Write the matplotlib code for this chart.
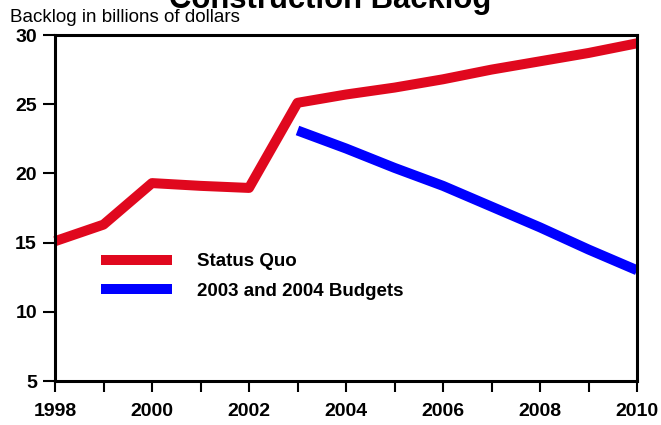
import numpy as np
import matplotlib.pyplot as plt

plt.rcParams['font.family'] = ['Liberation Sans', 'DejaVu Sans']

# data
years = [1998, 1999, 2000, 2001, 2002, 2003, 2004, 2005, 2006, 2007, 2008, 2009, 2010]
status_quo = [15.1, 16.3, 19.3, 19.1, 18.95, 25.1, 25.7, 26.2, 26.8, 27.5, 28.1, 28.7, 29.4]
budget_years = [2003, 2004, 2005, 2006, 2007, 2008, 2009, 2010]
budgets = [23.1, 21.8, 20.4, 19.1, 17.6, 16.1, 14.5, 13.0]

fig = plt.figure(figsize=(6.61, 4.25), dpi=100)
ax = fig.add_axes([55 / 661, 44 / 425, 582 / 661, 346 / 425])

ax.plot(years, status_quo, color='#e0081e', linewidth=7.2, solid_joinstyle='round',
        solid_capstyle='butt', label='Status Quo', clip_on=False)
ax.plot(budget_years, budgets, color='#0000ff', linewidth=7.2, solid_capstyle='butt',
        label='2003 and 2004 Budgets', clip_on=False)

ax.set_xlim(1998, 2010)
ax.set_ylim(5, 30)
ax.set_xticks(years)
ax.set_xticklabels([str(y) if y % 2 == 0 else '' for y in years])
ax.set_yticks([5, 10, 15, 20, 25, 30])

for sp in ax.spines.values():
    sp.set_linewidth(2.2)
ax.tick_params(axis='x', direction='out', length=8, width=1.5, pad=8, labelsize=14)
ax.tick_params(axis='y', direction='out', length=9, width=1.5, pad=4, labelsize=14)
for lab in ax.get_xticklabels() + ax.get_yticklabels():
    lab.set_fontweight('bold')

leg = ax.legend(loc='upper left', bbox_to_anchor=(0.079, 0.37), frameon=False,
                handlelength=3.8, handletextpad=1.3, labelspacing=0.67,
                borderpad=0, borderaxespad=0,
                prop={'weight': 'bold', 'size': 13.5})

fig.text(10 / 661, 1 - 22 / 425, 'Backlog in billions of dollars', fontsize=13.5,
         ha='left', va='baseline')
fig.text(0.5, 1 - 8 / 425, 'Construction Backlog', fontsize=22.3, fontweight='bold',
         ha='center', va='baseline')

fig.savefig('out.png', dpi=100)
